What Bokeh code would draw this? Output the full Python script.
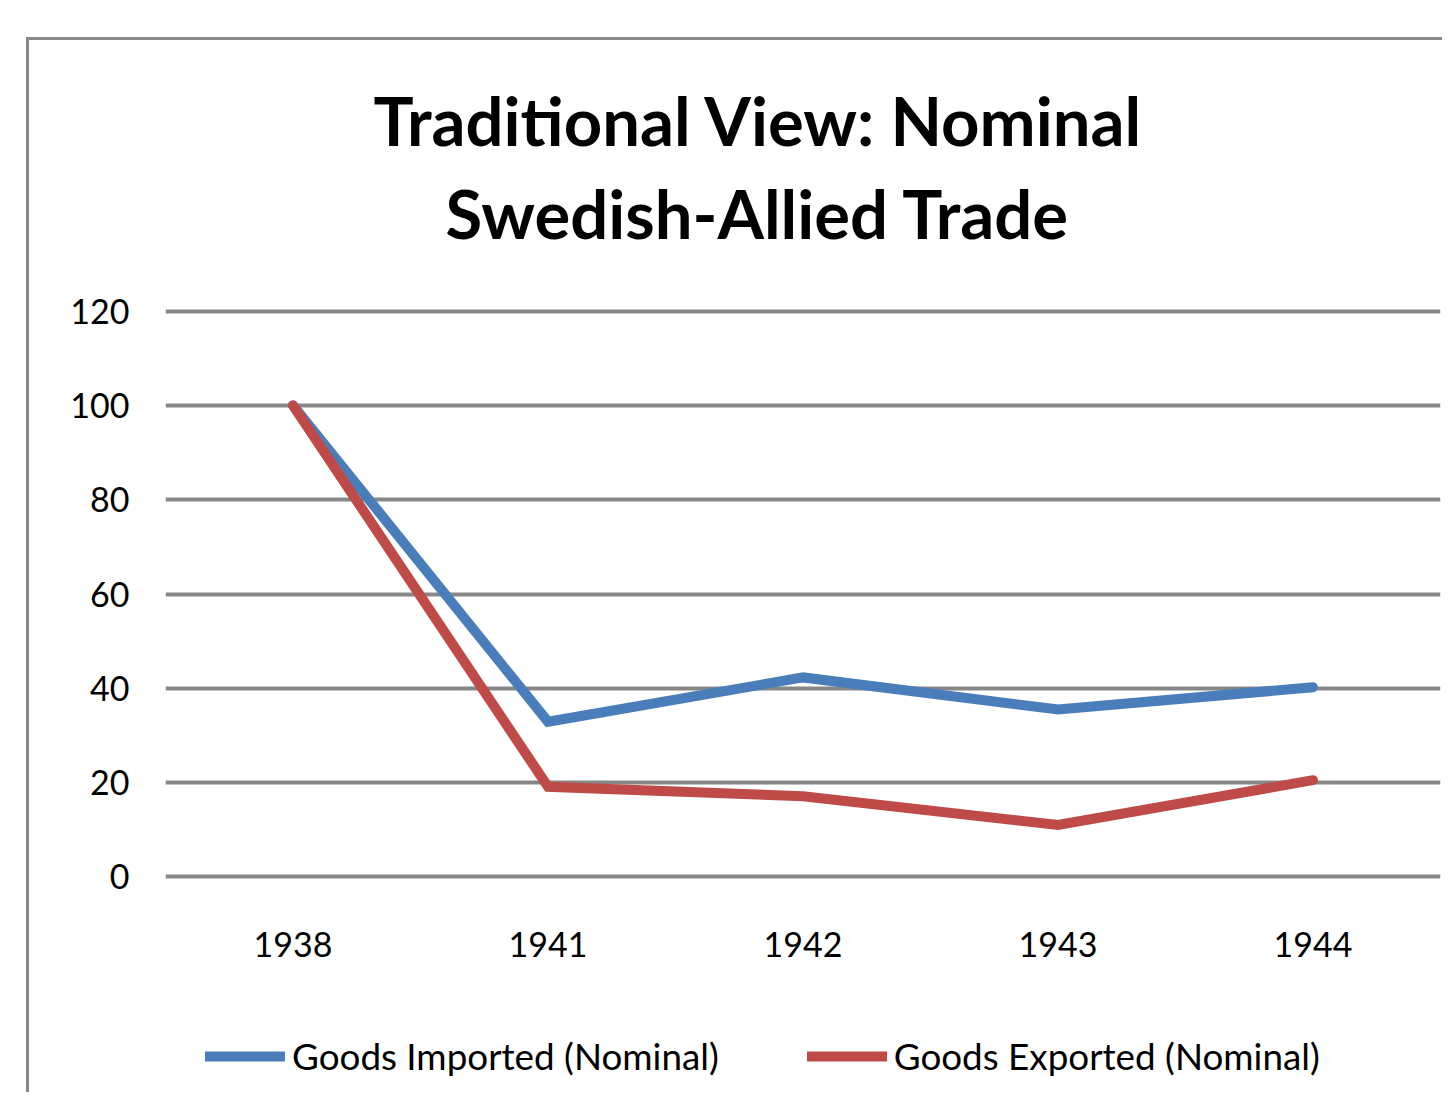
from bokeh.plotting import figure
from bokeh.models import FactorRange, Range1d, FixedTicker, Legend, LegendItem, Title
from bokeh.embed import file_html
from bokeh.resources import INLINE

years = ["1938", "1941", "1942", "1943", "1944"]
imported = [100, 32.9, 42.3, 35.5, 40.2]
exported = [100, 19.1, 17.1, 11.0, 20.5]
y_ticks = [0, 20, 40, 60, 80, 100, 120]
title_lines = ["Traditional View: Nominal", "Swedish-Allied Trade"]

FONT = "Lato"

# frame extends below the data area so the legend can sit inside it
p = figure(
    x_range=FactorRange(factors=years, range_padding=0),
    y_range=Range1d(-44.07, 121),
    frame_width=1275, frame_height=778,
    output_backend="svg", toolbar_location=None,
    min_border_left=136, min_border_right=2,
    min_border_top=266, min_border_bottom=8,
)
p.margin = (37, 0, 0, 26)
p.styles = {"border-left": "3px solid #878787", "border-top": "3px solid #878787"}

p.outline_line_color = None
p.background_fill_color = "white"
p.border_fill_color = "white"
p.title = None

t2 = Title(text=title_lines[1], align="left", offset=280, standoff=107,
           text_font=FONT, text_font_style="bold", text_font_size="67px",
           text_color="black")
t1 = Title(text=title_lines[0], align="left", offset=208, standoff=-84,
           text_font=FONT, text_font_style="bold", text_font_size="67px",
           text_color="black")
p.add_layout(t2, "above")
p.add_layout(t1, "above")

p.xgrid.grid_line_color = None
p.ygrid.ticker = FixedTicker(ticks=y_ticks)
p.ygrid.grid_line_color = "#878787"
p.ygrid.grid_line_width = 4

p.yaxis.ticker = FixedTicker(ticks=y_ticks)
for ax in (p.xaxis[0], p.yaxis[0]):
    ax.axis_line_color = None
    ax.major_tick_line_color = None
    ax.minor_tick_line_color = None
    ax.major_tick_out = 0
    ax.major_tick_in = 0
    ax.major_label_text_font = FONT
    ax.major_label_text_font_size = "34px"
    ax.major_label_text_color = "black"
p.yaxis.major_label_standoff = 36
p.xaxis.major_label_standoff = 50
p.xaxis.fixed_location = -1

r1 = p.line(x=years, y=imported, line_color="#4A7EBB", line_width=10,
            line_cap="round", line_join="miter")
r2 = p.line(x=years, y=exported, line_color="#BE4B48", line_width=10,
            line_cap="round", line_join="miter")

legend = Legend(
    items=[LegendItem(label="Goods Imported (Nominal)", renderers=[r1]),
           LegendItem(label="Goods Exported (Nominal)", renderers=[r2])],
    orientation="horizontal", location=(40, 6),
    glyph_width=80, glyph_height=14, label_height=30, label_standoff=7, spacing=88,
    label_text_font=FONT, label_text_font_size="36.8px", label_text_color="black",
    border_line_color=None, background_fill_alpha=0, padding=0, margin=0,
)
p.add_layout(legend, "center")

open("out.html", "w").write(file_html(p, INLINE))
